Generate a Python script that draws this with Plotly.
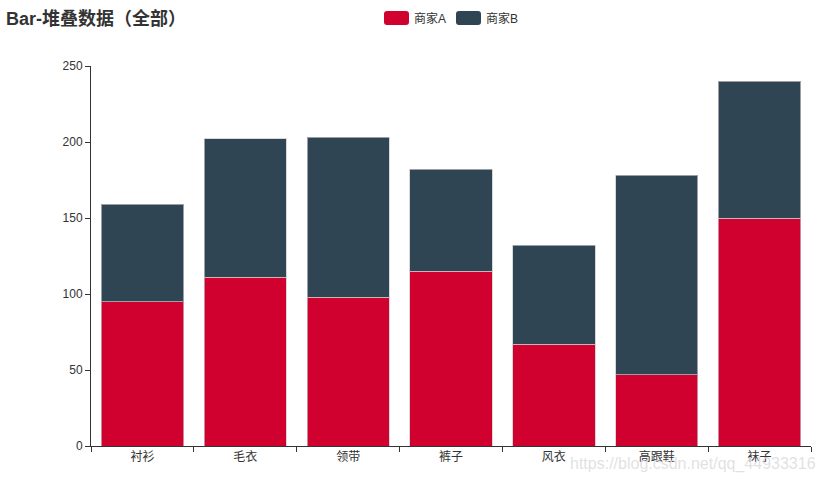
import plotly.graph_objects as go

categories = ["衬衫", "毛衣", "领带", "裤子", "风衣", "高跟鞋", "袜子"]
series_a = [95, 111, 98, 115, 67, 47, 150]
series_b = [64, 91, 105, 67, 65, 131, 90]
series_names = ["商家A", "商家B"]
colors = ["#d0002f", "#2f4554"]

W, H = 825, 482
L, R, T, B = 91, 14, 66, 36
PW, PH = W - L - R, H - T - B

fig = go.Figure()
for name, vals, c in zip(series_names, [series_a, series_b], colors):
    fig.add_trace(go.Bar(
        x=categories, y=vals, name=name, marker_color=c,
        marker_line=dict(color="rgba(200,200,200,0.7)", width=1),
        showlegend=False,
    ))

font = "Liberation Sans, Noto Sans CJK SC, sans-serif"
fig.update_layout(
    width=W, height=H, barmode="stack", bargap=0.2,
    margin=dict(l=L, r=R, t=T, b=B, autoexpand=False),
    plot_bgcolor="white", paper_bgcolor="white",
    font=dict(family=font, size=12, color="#333"),
    xaxis=dict(showline=True, linecolor="#333", linewidth=1, ticks="outside",
               tickson="boundaries", ticklen=5, tickcolor="#333",
               showgrid=False, tickfont=dict(size=12, color="#333")),
    yaxis=dict(range=[0, 250], dtick=50, showline=True, linecolor="#333",
               linewidth=1, ticks="outside", ticklen=5, tickcolor="#333",
               showgrid=False, zeroline=False, tickfont=dict(size=12, color="#333")),
)

def px(x):
    return (x - L) / PW
def py(y):
    return (H - B - y) / PH

anns = [
    dict(text="<b>Bar-堆叠数据（全部）</b>", x=px(4), y=py(19), xref="paper", yref="paper",
         xanchor="left", yanchor="middle", showarrow=False,
         font=dict(size=18, color="#333", family=font)),
    dict(text="https://blog.csdn.net/qq_44933316", x=px(818), y=py(464), xref="paper",
         yref="paper", xanchor="right", yanchor="middle", showarrow=False,
         font=dict(size=16, color="rgba(220,220,220,0.85)", family=font)),
]
shapes = []
leg_x = [384, 456]
for name, c, lx in zip(series_names, colors, leg_x):
    x0, x1, y0, y1 = px(lx), px(lx + 25), py(11), py(25)
    r = 3 / PW
    rv = 3 / PH
    path = (f"M {x0+r},{y0} L {x1-r},{y0} Q {x1},{y0} {x1},{y0-rv} "
            f"L {x1},{y1+rv} Q {x1},{y1} {x1-r},{y1} L {x0+r},{y1} "
            f"Q {x0},{y1} {x0},{y1+rv} L {x0},{y0-rv} Q {x0},{y0} {x0+r},{y0} Z")
    shapes.append(dict(type="path", path=path, xref="paper", yref="paper",
                       fillcolor=c, line=dict(width=0)))
    anns.append(dict(text=name, x=px(lx + 28), y=py(18), xref="paper", yref="paper",
                     xanchor="left", yanchor="middle", showarrow=False,
                     font=dict(size=12, color="#333", family=font)))
fig.update_layout(annotations=anns, shapes=shapes)

fig.write_html("out.html", config={"displayModeBar": False},
               post_script="document.body.style.margin='0';document.body.style.overflow='hidden';")
